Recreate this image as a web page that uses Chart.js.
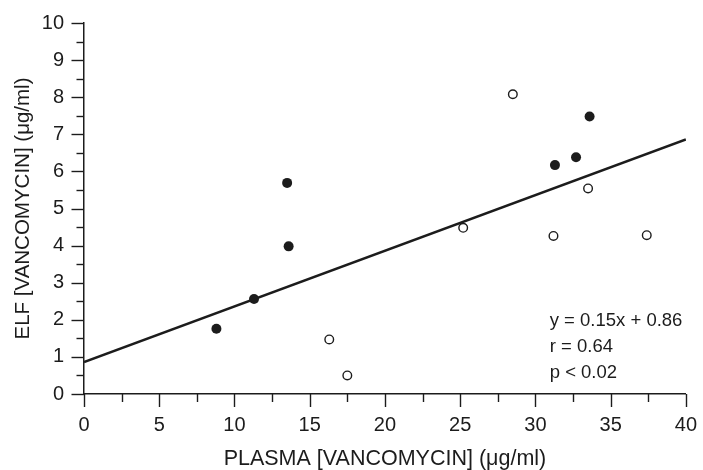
<!DOCTYPE html>
<html>
<head>
<meta charset="utf-8">
<script src="https://cdn.jsdelivr.net/npm/chart.js@4.4.1/dist/chart.umd.min.js"></script>
<style>
  html, body { margin: 0; padding: 0; background: #fff; }
  #wrap { width: 703px; height: 470px; }
</style>
</head>
<body>
<div id="wrap"><canvas id="c" width="703" height="470"></canvas></div>
<script>
// Filled circles
const filledX = [8.8, 11.3, 13.6, 13.5, 31.3, 32.7, 33.6];
const filledY = [1.76, 2.56, 3.98, 5.69, 6.17, 6.38, 7.48];
// Open circles
const openX = [16.3, 17.5, 25.2, 28.5, 31.2, 33.5, 37.4];
const openY = [1.47, 0.50, 4.48, 8.08, 4.26, 5.54, 4.28];
// Regression line end points (y = 0.15x + 0.86)
const lineX = [0, 40];
const lineY = [0.86, 6.86];
// Axis ticks
const xTicks = [0, 5, 10, 15, 20, 25, 30, 35, 40];
const yTicks = [0, 1, 2, 3, 4, 5, 6, 7, 8, 9, 10];
const statsText = ['y = 0.15x + 0.86', 'r = 0.64', 'p < 0.02'];

const ink = '#1c1c1c';
const FONT = "'Liberation Sans', Arial, Helvetica, sans-serif";

const toPts = (xs, ys) => xs.map((x, i) => ({ x: x, y: ys[i] }));

const tickMarks = {
  id: 'tickMarks',
  afterDraw(chart) {
    const { ctx } = chart;
    const xs = chart.scales.x, ys = chart.scales.y;
    ctx.save();
    ctx.strokeStyle = ink;
    ctx.lineWidth = 1.4;
    const bottom = xs.top, left = ys.right;
    for (let v = 0; v <= 40; v += 2.5) {
      const px = Math.round(xs.getPixelForValue(v)) + 0.5;
      const len = (v % 5 === 0) ? 13 : 8;
      ctx.beginPath(); ctx.moveTo(px, bottom); ctx.lineTo(px, bottom + len); ctx.stroke();
    }
    for (let v = 0; v <= 10; v += 0.5) {
      const py = Math.round(ys.getPixelForValue(v)) + 0.5;
      const len = (v % 1 === 0) ? 12.5 : 7.5;
      ctx.beginPath(); ctx.moveTo(left, py); ctx.lineTo(left - len, py); ctx.stroke();
    }
    // statistics text
    ctx.fillStyle = ink;
    ctx.font = '18.5px ' + FONT;
    ctx.textAlign = 'left';
    ctx.textBaseline = 'middle';
    const tx = xs.getPixelForValue(30.95);
    const tyVals = [1.98, 1.28, 0.58];
    statsText.forEach((t, i) => ctx.fillText(t, tx, ys.getPixelForValue(tyVals[i])));
    ctx.restore();
  }
};

new Chart(document.getElementById('c'), {
  type: 'scatter',
  data: {
    datasets: [
      {
        data: toPts(filledX, filledY),
        pointRadius: 5, pointHoverRadius: 5,
        backgroundColor: ink, borderWidth: 0,
        order: 0
      },
      {
        data: toPts(openX, openY),
        pointRadius: 4.3, pointHoverRadius: 4.3,
        backgroundColor: '#fff', borderColor: ink, borderWidth: 1.4,
        order: 0
      },
      {
        type: 'line',
        data: toPts(lineX, lineY),
        borderColor: ink, borderWidth: 2.6,
        pointRadius: 0, fill: false, tension: 0,
        order: 2
      }
    ]
  },
  options: {
    responsive: false,
    animation: false,
    events: [],
    layout: { padding: { left: 0, right: 13, top: 23, bottom: 0 } },
    plugins: { legend: { display: false }, tooltip: { enabled: false } },
    scales: {
      x: {
        type: 'linear', min: 0, max: 40,
        afterFit(s) { s.height = 76; },
        afterBuildTicks(s) { s.ticks = xTicks.map(v => ({ value: v })); },
        grid: { drawOnChartArea: false, drawTicks: true, tickLength: 13, color: 'rgba(0,0,0,0)' },
        border: { display: true, color: ink, width: 1.5 },
        ticks: { color: ink, padding: 6, font: { family: FONT, size: 20 }, maxRotation: 0 },
        title: {
          display: true, text: 'PLASMA [VANCOMYCIN] (μg/ml)', color: ink,
          font: { family: FONT, size: 21.5, lineHeight: 1 }, padding: { top: 0, bottom: 0 }
        }
      },
      y: {
        type: 'linear', min: 0, max: 10,
        afterFit(s) { s.width = 84; },
        afterBuildTicks(s) { s.ticks = yTicks.map(v => ({ value: v })); },
        grid: { drawOnChartArea: false, drawTicks: true, tickLength: 13, color: 'rgba(0,0,0,0)' },
        border: { display: true, color: ink, width: 1.5 },
        ticks: { color: ink, padding: 7, font: { family: FONT, size: 20 } },
        title: {
          display: true, text: 'ELF [VANCOMYCIN] (μg/ml)', color: ink,
          font: { family: FONT, size: 20.5, lineHeight: 1 }, padding: { top: 13, bottom: 0 }
        }
      }
    }
  },
  plugins: [tickMarks]
});
</script>
</body>
</html>
